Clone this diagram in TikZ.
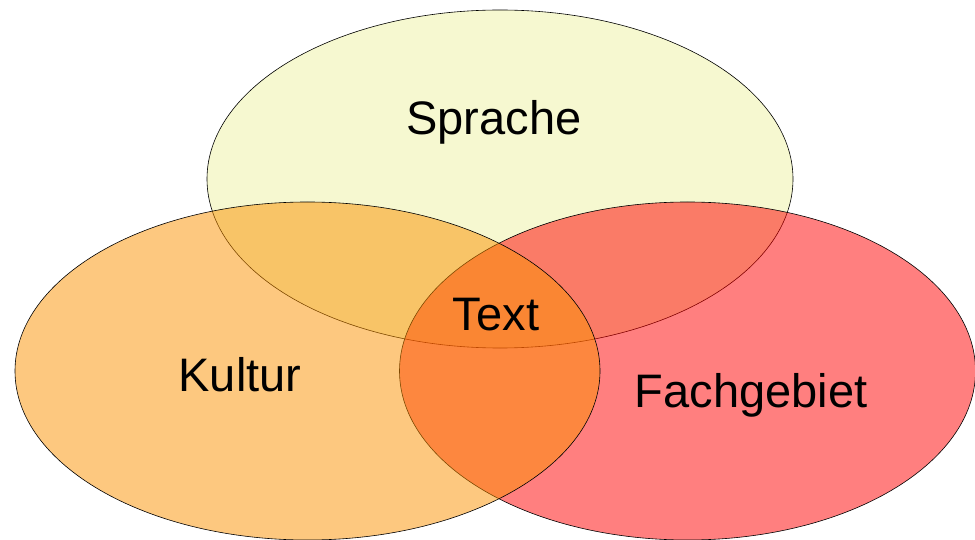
\documentclass[tikz,border=0pt]{standalone}
\usepackage{fontspec}
\setmainfont{Liberation Sans}
\begin{document}
\begin{tikzpicture}[x=1bp,y=-1bp,
  venn/.style={draw=black,line width=0.6bp},
  lbl/.style={anchor=base,inner sep=0pt,font=\fontsize{47bp}{56bp}\selectfont}]
\useasboundingbox (0,0) rectangle (975,540);
\definecolor{cSpr}{RGB}{246,248,208}
\definecolor{cFach}{RGB}{255,0,0}
\definecolor{cKult}{RGB}{251,145,0}
% Sprache (top)
\draw[venn,fill=cSpr] (500,179) ellipse [x radius=293bp,y radius=169bp];
% Fachgebiet (right)
\draw[venn,fill=cFach,fill opacity=0.5] (687.5,371) ellipse [x radius=288bp,y radius=169bp];
% Kultur (left)
\draw[venn,fill=cKult,fill opacity=0.5] (307.5,371) ellipse [x radius=292.5bp,y radius=169bp];
\node[lbl] (sprache) at (494,135) {Sprache};
\node[lbl] (kultur) at (240,391) {Kultur};
\node[lbl] (fach) at (751,407) {Fachgebiet};
\node[lbl] (text) at (496,331) {Text};
\end{tikzpicture}
\end{document}
